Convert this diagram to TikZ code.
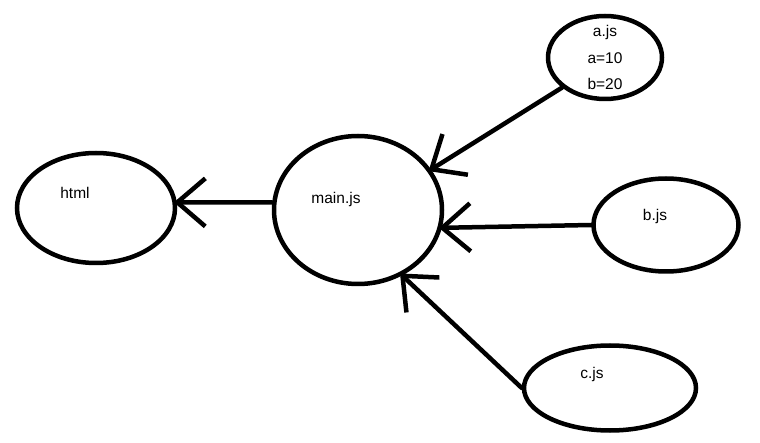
\documentclass[tikz,border=0pt]{standalone}
\usepackage{fontspec}
\setmainfont{Liberation Sans}
\usepackage{tikz}
\usetikzlibrary{arrows.meta}
\usetikzlibrary{shapes.geometric}

\begin{document}
\begin{tikzpicture}[x=1pt,y=-1pt,line width=4.5pt]
				% Define styles for the modules and the dependency arrows.
				\tikzset{module/.style={draw,ellipse,inner sep=0pt},
					dep/.style={-{Straight Barb[length=28pt,width=48pt,line width=4.5pt]},line cap=round,shorten >=-3pt},
					lbl/.style={font=\fontsize{15.5}{18}\selectfont,inner sep=0pt}}
				
				% Fix the margins.
				\useasboundingbox (0,0) rectangle (760,443);
				
				% Modules (ellipses).
				\node[module,minimum width=158pt,minimum height=110pt] (html) at (96,208) {};
				\node[module,minimum width=168pt,minimum height=148pt] (main) at (358,210) {};
				\node[module,minimum width=114pt,minimum height=83pt] (a) at (605,57.5) {};
				\node[module,minimum width=145pt,minimum height=93pt] (b) at (666,225) {};
				\node[module,minimum width=172pt,minimum height=85pt] (c) at (610,388) {};
				
				% Texts inside the modules.
				\node[lbl] (htmltxt) at (75,193) {html};
				\node[lbl] (maintxt) at (336,199) {main.js};
				\node[lbl] (atxt) at (605,32) {a.js};
				\node[lbl] (avar) at (605,58) {a=10};
				\node[lbl] (bvar) at (605,84) {b=20};
				\node[lbl] (btxt) at (655,216) {b.js};
				\node[lbl] (ctxt) at (592,374) {c.js};
				
				% Dependencies.
				\draw[dep] (main.175) -- (html.4);
				\draw[dep] (a.215) -- (main.29);
				\draw[dep] (b.180) -- (main.-12);
				\draw[dep] (c.180) -- (main.-56);
				
\end{tikzpicture}
\end{document}
